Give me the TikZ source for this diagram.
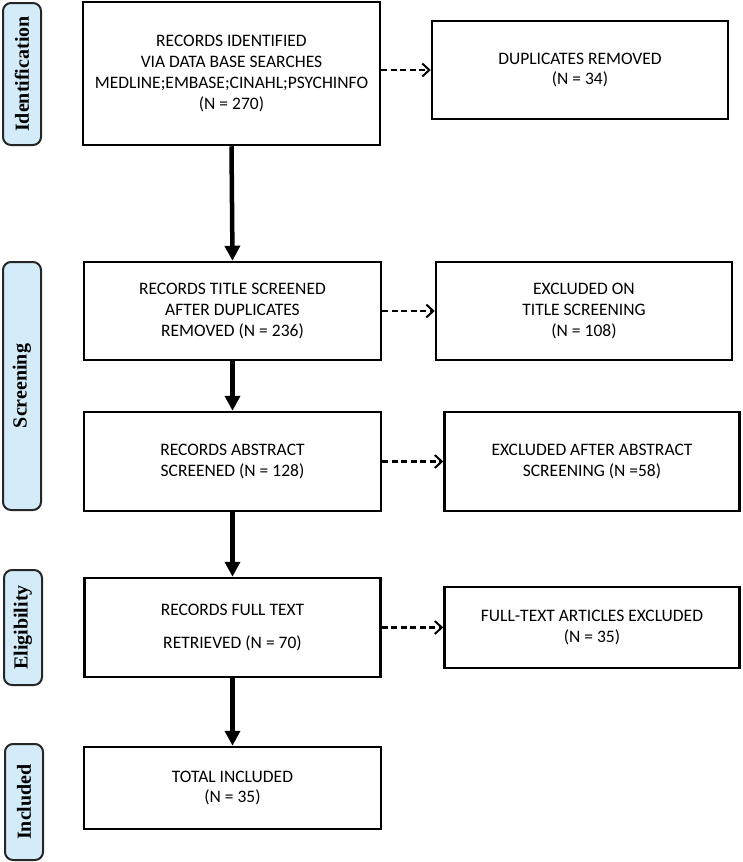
\documentclass[tikz,border=0pt]{standalone}
\usepackage{fontspec}
\setmainfont{Carlito}
\newfontfamily\labfont{Liberation Serif}
\usetikzlibrary{arrows.meta}
\definecolor{labfill}{HTML}{D4ECFA}
\tikzset{
  box/.style={draw=black, line width=2.5pt, rectangle, align=center, inner sep=0pt,
    font=\fontsize{17.5}{20.8}\selectfont},
  phase/.style={draw=black!85, line width=2pt, fill=labfill, rounded corners=8pt,
    inner sep=0pt, minimum width=38pt},
  phasetext/.style={rotate=90, font=\labfont\bfseries\fontsize{20}{22}\selectfont},
  mainarrow/.style={line width=4.5pt, -{Triangle[width=15pt,length=15pt]}},
  sidearrow/.style={line width=2.2pt, dash pattern=on 6pt off 3.5pt,
    -{Straight Barb[width=13pt,length=7pt,line width=2pt]}}
}
\begin{document}
\begin{tikzpicture}[x=1pt,y=-1pt]
\useasboundingbox (0,0) rectangle (742,862);
% phase labels
\node[phase, minimum height=142pt] (pid) at (22,74) {};
\node[phasetext] (tid) at (pid.center) {Identification};
\node[phase, minimum height=248pt] (psc) at (22,386) {};
\node[phasetext] (tsc) at (psc.center) {Screening};
\node[phase, minimum height=115pt] (pel) at (23,627.5) {};
\node[phasetext] (tel) at (pel.center) {Eligibility};
\node[phase, minimum height=116pt] (pin) at (24,802) {};
\node[phasetext] (tin) at (pin.center) {Included};
% main boxes
\node[box, minimum width=297pt, minimum height=143pt] (b1) at (231.5,73.5)
  {RECORDS IDENTIFIED\\VIA DATA BASE SEARCHES\\MEDLINE;EMBASE;CINAHL;PSYCHINFO\\(N = 270)};
\node[box, minimum width=297pt, minimum height=98pt] (b2) at (232.5,311)
  {RECORDS TITLE SCREENED\\AFTER DUPLICATES\\REMOVED (N = 236)};
\node[box, minimum width=297pt, minimum height=99pt] (b3) at (232.5,461.5)
  {RECORDS ABSTRACT\\SCREENED (N = 128)};
\node[box, minimum width=296pt, minimum height=99pt] (b4) at (232.5,627.5)
  {RECORDS FULL TEXT\\[12pt]RETRIEVED (N = 70)};
\node[box, minimum width=297pt, minimum height=82pt] (b5) at (232.5,788)
  {TOTAL INCLUDED\\(N = 35)};
% side boxes
\node[box, minimum width=296pt, minimum height=98pt] (s1) at (580,70)
  {DUPLICATES REMOVED\\(N = 34)};
\node[box, minimum width=296pt, minimum height=98pt] (s2) at (584,311)
  {EXCLUDED ON\\TITLE SCREENING\\(N = 108)};
\node[box, minimum width=295pt, minimum height=99pt] (s3) at (592,461.5)
  {EXCLUDED AFTER ABSTRACT\\SCREENING (N =58)};
\node[box, minimum width=295pt, minimum height=81pt] (s4) at (592,627.5)
  {FULL-TEXT ARTICLES EXCLUDED\\(N = 35)};
% arrows
\draw[mainarrow] (b1.south) -- (b2.north);
\draw[mainarrow] (b2.south) -- (b3.north);
\draw[mainarrow] (b3.south) -- (b4.north);
\draw[mainarrow] (b4.south) -- (b5.north);
\draw[sidearrow] (b1.east |- s1.west) -- (s1.west);
\draw[sidearrow] (b2.east) -- (s2.west);
\draw[sidearrow] (b3.east) -- (s3.west);
\draw[sidearrow] (b4.east) -- (s4.west);
\end{tikzpicture}
\end{document}
